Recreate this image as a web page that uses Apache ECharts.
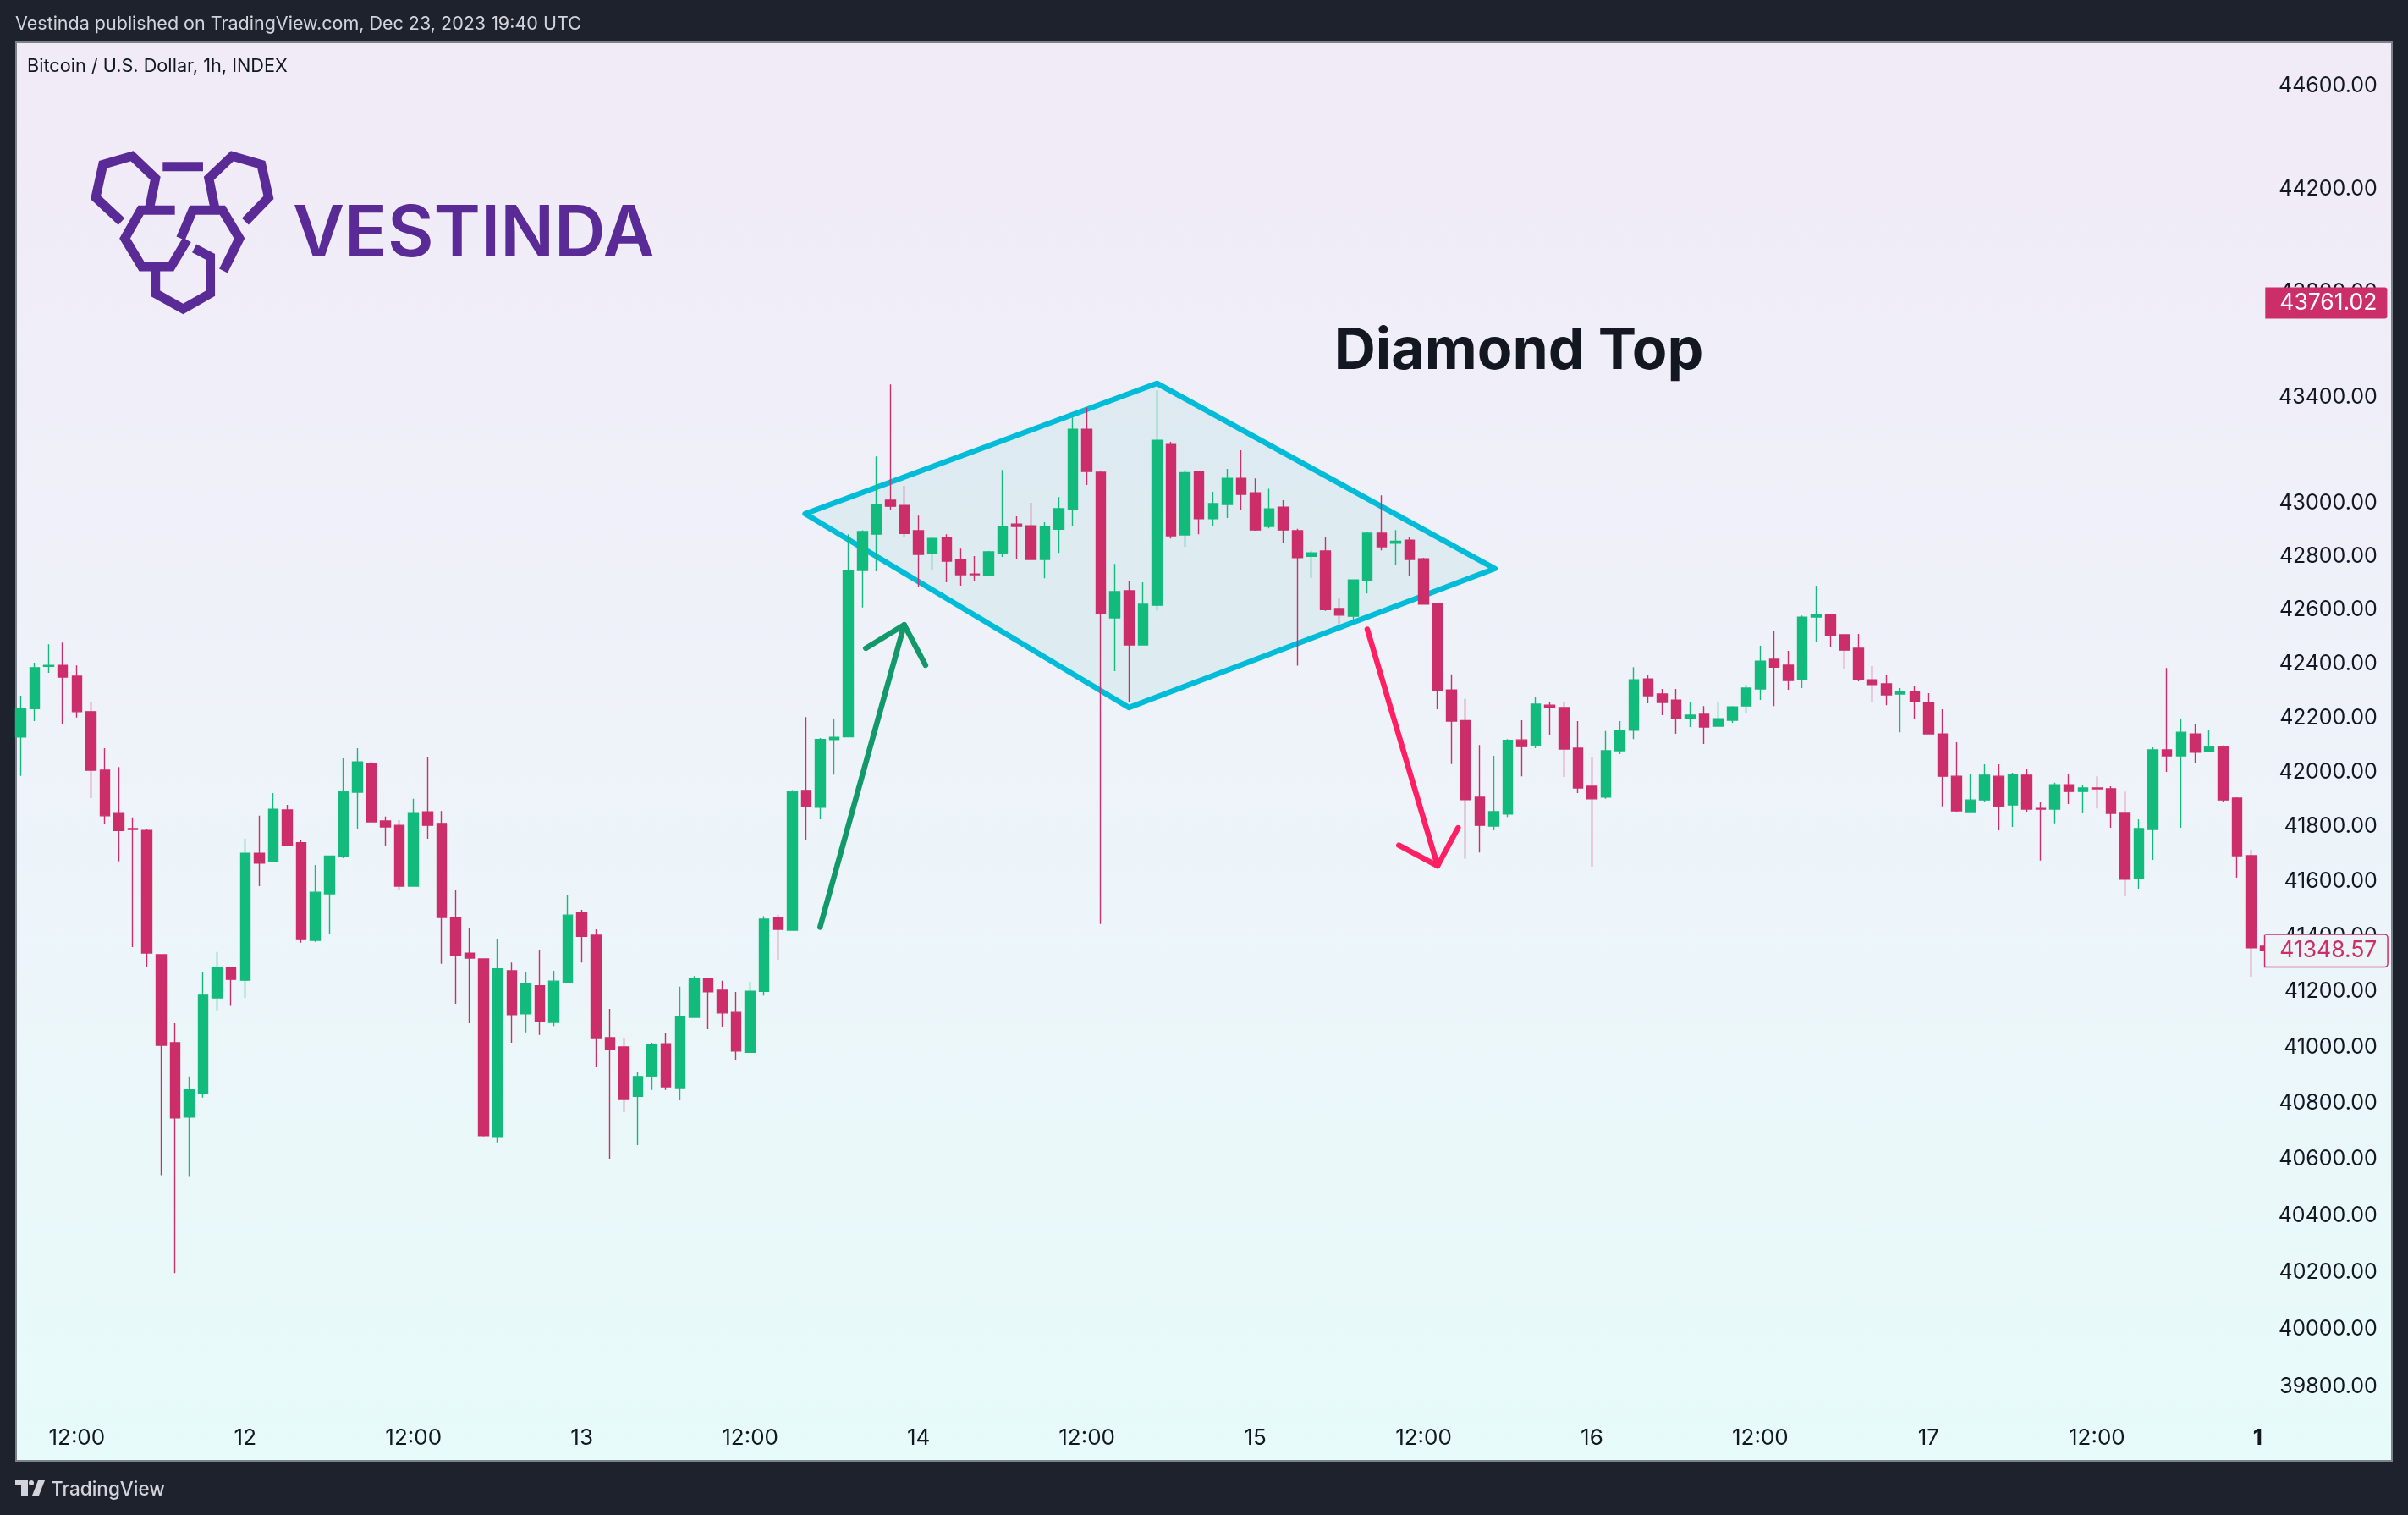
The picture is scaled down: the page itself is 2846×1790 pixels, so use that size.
<!DOCTYPE html>
<html>
<head>
<meta charset="utf-8">
<title>Diamond Top</title>
<script src="https://cdn.jsdelivr.net/npm/echarts@6/dist/echarts.min.js"></script>
<style>
  html,body{margin:0;padding:0;background:#1e222d;}
  #chart{width:2846px;height:1790px;}
</style>
</head>
<body>
<div id="chart"></div>
<script>
// hourly candles
const opens = [42129,42234,42391,42394,42354,42223,42007,41851,41793,41786,
41334,41017,40751,40836,41178,41286,41242,41703,41673,41861,
41741,41386,41555,41690,41926,42032,41821,41805,41583,41854,
41812,41469,41340,41319,40682,41276,41121,41222,41090,41233,
41488,41405,41035,41002,40825,40896,41013,40853,41108,41249,
41206,41126,40983,41202,41469,41423,41933,41871,42120,42130,
42748,42884,43012,42992,42897,42811,42872,42789,42735,42729,
42814,42922,42916,42789,42903,42976,43280,43117,42571,42672,
42470,42618,43222,42881,43120,42942,42996,43094,43040,42913,
42986,42897,42801,42821,42606,42577,42709,42888,42850,42862,
42792,42624,42303,42190,41908,41802,41846,42119,42098,42247,
42238,42088,41948,41908,42079,42154,42344,42288,42266,42197,
42213,42169,42191,42244,42307,42417,42395,42341,42574,42584,
42508,42458,42341,42326,42288,42298,42257,42141,41985,41855,
41898,41985,41880,41989,41867,41864,41954,41929,41942,41939,
41852,41611,41790,42082,42060,42141,42076,42094,41905,41694,
41365];
const closes = [42234,42386,42394,42351,42223,42007,41840,41786,41790,41340,
41008,40748,40848,41188,41286,41245,41703,41667,41864,41731,
41389,41561,41693,41929,42038,41818,41799,41583,41851,41805,
41469,41331,41322,40685,41283,41118,41228,41093,41239,41478,
41401,41032,40992,40814,40896,41011,40859,41111,41249,41200,
41124,40987,41202,41463,41426,41929,41873,42120,42128,42748,
42894,42996,42989,42887,42808,42868,42783,42732,42732,42818,
42913,42913,42789,42913,42980,43280,43120,42587,42669,42470,
42622,43238,42878,43116,42942,42999,43094,43034,42900,42979,
42900,42796,42814,42602,42581,42713,42888,42837,42858,42789,
42622,42301,42188,41899,41805,41855,42117,42094,42251,42238,
42085,41942,41902,42079,42154,42341,42282,42257,42197,42210,
42166,42197,42241,42310,42410,42388,42338,42574,42584,42505,
42451,42344,42323,42285,42298,42260,42141,41985,41858,41898,
41989,41874,41992,41864,41864,41954,41929,41942,41939,41849,
41608,41793,42082,42060,42147,42073,42094,41898,41694,41359,
41348.57];
const lows = [41986,42188,42367,42178,42201,41905,41809,41673,41362,41289,
40544,40198,40538,40821,41133,41149,41178,41583,41673,41728,
41378,41381,41408,41685,41790,41818,41728,41568,41583,41756,
41301,41157,41087,40682,40661,41017,41054,41045,41077,41233,
41306,40929,40603,40769,40651,40848,40848,40811,41108,41066,
41075,40956,40983,41187,41316,41423,41752,41827,41991,42130,
42610,42745,42976,42872,42685,42751,42704,42691,42710,42729,
42799,42792,42789,42719,42814,42916,43069,41445,42373,42257,
42470,42599,42868,42837,42884,42916,42945,42976,42897,42906,
42852,42393,42720,42597,42547,42565,42662,42823,42770,42729,
42622,42232,42030,41683,41706,41787,41836,41985,42088,42138,
41982,41923,41654,41902,42066,42122,42254,42210,42141,42166,
42104,42169,42182,42219,42266,42244,42304,42310,42480,42464,
42382,42335,42257,42247,42147,42197,42141,41874,41855,41855,
41892,41787,41799,41855,41676,41812,41883,41849,41867,41796,
41546,41574,41679,42001,41796,42035,42073,41889,41614,41255,
41348.57];
const highs = [42282,42404,42473,42479,42394,42260,42088,42019,41834,41791,
41336,41087,40896,41270,41344,41289,41756,41840,41923,41880,
41753,41660,41693,42051,42088,42038,41837,41824,41902,42054,
41857,41571,41430,41320,41392,41306,41273,41350,41276,41549,
41497,41426,41139,41032,40911,41017,41051,41219,41257,41249,
41240,41200,41236,41474,41479,41934,42203,42126,42197,42884,
42899,43177,43450,43066,42954,42872,42884,42830,42802,42821,
43126,42951,43002,42929,43024,43324,43361,43120,42773,42710,
42704,43427,43232,43126,43123,43044,43130,43200,43094,43055,
43012,42904,42822,42875,42644,42713,42891,43030,42900,42875,
42796,42628,42361,42270,42100,42060,42122,42191,42276,42260,
42257,42188,42054,42151,42188,42388,42360,42307,42307,42260,
42244,42260,42244,42323,42467,42524,42448,42580,42691,42584,
42511,42511,42392,42357,42310,42319,42291,42232,42110,41992,
42029,42029,41998,42013,41889,41961,41995,41954,41985,41948,
41929,41827,42091,42385,42197,42179,42157,42098,41908,41716,
41365];

const xTickIndex = [4,16,28,40,52,64,76,88,100,112,124,136,148,160];
const xTickLabels = ['12:00','12','12:00','13','12:00','14','12:00','15','12:00','16','12:00','17','12:00','1'];
const priceTicks = [44600,44200,43800,43400,43000,42800,42600,42400,42200,42000,41800,41600,41400,41200,41000,40800,40600,40400,40200,40000,39800];
const lastPrice = 41348.57;
const tagPrice = 43761.02;

// drawings: [bar index, price]
const diamond = [[55.92,42961],[80.99,43454],[105.08,42755],[79,42238]];
const upShaft = [[56.98,41434],[62.98,42545]];
const upHead = [[60.24,42458],[62.98,42545],[64.5,42395]];
const downShaft = [[95.99,42528],[101,41657]];
const downHead = [[98.24,41732],[101,41657],[102.46,41796]];

const UP = '#12bb7c', DOWN = '#cc2e69', FONT = 'Inter';
const BAR_SLOTS = 170;
const categories = [];
for (let i = 0; i < BAR_SLOTS; i++) {
  const k = xTickIndex.indexOf(i);
  categories.push(k >= 0 ? xTickLabels[k] : '');
}
const ohlc = opens.map((o, i) => [o, closes[i], lows[i], highs[i]]);

// drawings sit on a hidden value axis, the category axis rounds to whole bars
function polySeries(name, pts, type, style, z) {
  return {
    type: 'custom', name: name, z: z, clip: false, silent: true, xAxisIndex: 1,
    data: pts,
    renderItem: function (params, api) {
      if (params.dataIndex !== 0) return null;
      return { type: type, shape: { points: pts.map(p => api.coord(p)) }, style: style };
    }
  };
}
const cyan = { fill: 'rgba(0,172,150,0.07)', stroke: '#00bcd9', lineWidth: 6.5, lineJoin: 'round' };
function arrowStyle(c) { return { fill: null, stroke: c, lineWidth: 6.5, lineCap: 'round', lineJoin: 'round' }; }

function tagLabel(bg, fg, border) {
  return {
    show: true, position: 'right', distance: 0, color: fg, fontFamily: FONT, fontSize: 26.5,
    lineHeight: 25, backgroundColor: bg, borderColor: border, borderWidth: border ? 1.5 : 0,
    borderRadius: [0, 3, 3, 0], padding: [6, 12, 6, 17], opacity: 1,
    formatter: p => p.value[1].toFixed(2)
  };
}

// logo strokes
const S = (x, y) => [x / 1.742, y / 3];
const logoLines = [
  [[250,785],[197,700],[212,583],[272,553],[320,632],[308,735]],
  [[505,785],[553,700],[538,583],[478,553],[430,632],[442,735]],
  [[360,745],[290,745],[257,845],[292,945],[352,945],[385,850]],
  [[372,845],[397,745],[458,745],[493,845],[460,960]],
  [[320,950],[320,1040],[377,1095],[433,1040],[433,910],[400,880]],
  [[335,590],[418,590]]
];
const graphics = [
  { type: 'rect', z: -10, shape: { x: 19, y: 50, width: 2808, height: 1676 },
    style: { stroke: '#7d818b', lineWidth: 2,
      fill: new echarts.graphic.LinearGradient(0, 0, 0, 1, [
        { offset: 0, color: '#f1eaf7' }, { offset: 0.5, color: '#eef3f9' }, { offset: 1, color: '#e7fbfa' }]) } },
  { type: 'text', x: 18, y: 29, style: { text: 'Vestinda published on TradingView.com, Dec 23, 2023 19:40 UTC', fill: '#d1d4dc', font: '21.5px ' + FONT, verticalAlign: 'middle' } },
  { type: 'text', x: 32, y: 78, style: { text: 'Bitcoin / U.S. Dollar, 1h, INDEX', fill: '#131722', font: '21.7px ' + FONT, verticalAlign: 'middle' } },
  { type: 'text', x: 346, y: 278, style: { text: 'VESTINDA', fill: '#5a2a96', font: '600 84px ' + FONT, verticalAlign: 'middle' } },
  { type: 'text', x: 1795, y: 416, z: 10, style: { text: 'Diamond Top', fill: '#131722', font: '700 68px ' + FONT, align: 'center', verticalAlign: 'middle' } },
  { type: 'text', x: 60, y: 1760, style: { text: 'TradingView', fill: '#d1d4dc', font: '500 22.5px ' + FONT, verticalAlign: 'middle' } },
  { type: 'polygon', shape: { points: [[18,1749],[33,1749],[33,1767],[25,1767],[25,1755],[18,1755]] }, style: { fill: '#d1d4dc' } },
  { type: 'circle', shape: { cx: 37, cy: 1752, r: 3 }, style: { fill: '#d1d4dc' } },
  { type: 'polygon', shape: { points: [[45,1749],[53,1749],[46,1767],[38,1767]] }, style: { fill: '#d1d4dc' } }
].concat(logoLines.map(l => ({
  type: 'polyline', shape: { points: l.map(p => S(p[0], p[1])) },
  style: { fill: null, stroke: '#5a2a96', lineWidth: 11, lineJoin: 'miter' }
})));

const chart = echarts.init(document.getElementById('chart'));
chart.setOption({
  animation: false,
  backgroundColor: '#1e222d',
  graphic: { elements: graphics },
  grid: { left: 16.2, right: 11.2, top: 49, bottom: 64 },
  xAxis: [{
    type: 'category', data: categories,
    axisLine: { show: false }, axisTick: { show: false }, splitLine: { show: false },
    axisLabel: {
      interval: 0, inside: true, margin: 14, color: '#131722', fontFamily: FONT, fontSize: 26,
      hideOverlap: false,
      formatter: v => v === '1' ? '{b|1}' : v,
      rich: { b: { fontFamily: FONT, fontSize: 26, fontWeight: 700, color: '#131722', padding: [0, 18, 0, 0] } }
    }
  }, {
    type: 'value', show: false, min: -0.5, max: BAR_SLOTS - 0.5, splitLine: { show: false }
  }],
  yAxis: {
    type: 'log', logBase: 10, position: 'right', min: 39543, max: 44774,
    axisLine: { show: false }, axisTick: { show: false }, splitLine: { show: false },
    axisLabel: {
      inside: true, margin: 25, color: '#131722', fontFamily: FONT, fontSize: 25,
      padding: [4, 0, 0, 0],
      customValues: priceTicks, showMinLabel: true, showMaxLabel: true,
      formatter: v => Number(v).toFixed(2)
    }
  },
  series: [
    polySeries('diamond', diamond, 'polygon', cyan, 1),
    {
      type: 'candlestick', name: 'BTCUSD', z: 3, data: ohlc, barWidth: 12,
      itemStyle: { color: UP, color0: DOWN, borderColor: UP, borderColor0: DOWN, borderWidth: 1.4 }
    },
    polySeries('upShaft', upShaft, 'polyline', arrowStyle('#11996a'), 4),
    polySeries('upHead', upHead, 'polyline', arrowStyle('#11996a'), 4),
    polySeries('downShaft', downShaft, 'polyline', arrowStyle('#ff1f63'), 4),
    polySeries('downHead', downHead, 'polyline', arrowStyle('#ff1f63'), 4),
    {
      type: 'scatter', name: 'tags', z: 6, symbolSize: 0, silent: true, clip: false,
      itemStyle: { opacity: 1 },
      data: [
        { value: [160, tagPrice], label: tagLabel(DOWN, '#ffffff', null) },
        { value: [160, lastPrice], label: tagLabel('#ecf4f8', '#cc2e69', DOWN) }
      ]
    }
  ]
});
window.addEventListener('resize', function () { chart.resize(); });
</script>
</body>
</html>
